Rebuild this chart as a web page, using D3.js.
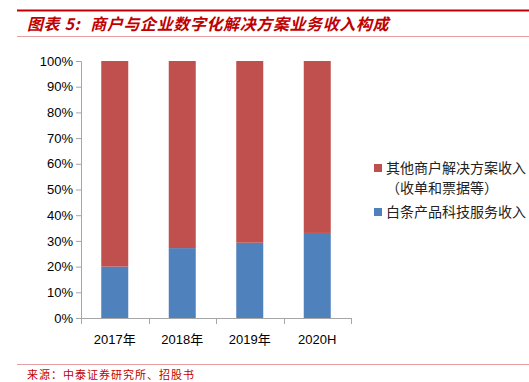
<!DOCTYPE html>
<html lang="zh-cn">
<head>
<meta charset="UTF-8">
<script src="https://cdn.jsdelivr.net/npm/d3@7/dist/d3.min.js"></script>
<title>商户与企业数字化解决方案业务收入构成</title>
<style>
  body { margin: 0; background: #fff; }
  svg { display: block; font-family: "Liberation Sans", Arial, "Noto Sans CJK SC", sans-serif; }
</style>
</head>
<body>
<script>
    // 数据
    var categories = ["2017年", "2018年", "2019年", "2020H"];
    var baitiao = [0.20, 0.272, 0.293, 0.331];       // 白条产品科技服务收入
    var others = [0.80, 0.728, 0.707, 0.669];        // 其他商户解决方案收入
    var yTicks = [0, 0.1, 0.2, 0.3, 0.4, 0.5, 0.6, 0.7, 0.8, 0.9, 1.0];

    var width = 529, height = 382;
    var svg = d3.select("body").append("svg").attr("width", width).attr("height", height);

    var red = "#C0504D", blue = "#4F81BD", titleRed = "#C00000";

    // 顶部标题
    svg.append("rect").attr("x", 17).attr("y", 9.5).attr("width", width - 17).attr("height", 2).attr("fill", titleRed);
    var title = svg.append("text").attr("x", 27).attr("y", 30)
        .attr("fill", titleRed).attr("font-size", "16px").attr("font-style", "italic").attr("font-weight", "bold")
        .attr("font-family", "'Noto Sans CJK SC', sans-serif").attr("letter-spacing", "0.6px")
        .style("white-space", "pre");
    title.append("tspan").text("图表 5:");
    title.append("tspan").attr("dx", 10).text("商户与企业数字化解决方案业务收入构成");
    svg.append("line").attr("x1", 17).attr("x2", width).attr("y1", 36.5).attr("y2", 36.5)
        .attr("stroke", "#E8A0A0").attr("stroke-width", 1);

    var padding = { top: 61, left: 81, right: 178, bottom: 64 };
    var x = d3.scaleBand().domain(categories).range([padding.left, 351]).paddingInner(0.6).paddingOuter(0.3);
    var y = d3.scaleLinear().domain([0, 1]).range([318, 61]);

    var stackData = categories.map(function(c, i) {
        return { cat: c, baitiao: baitiao[i], others: others[i] };
    });
    var series = d3.stack().keys(["baitiao", "others"])(stackData);
    var colors = { baitiao: blue, others: red };

    svg.append("g").selectAll("g").data(series).enter().append("g")
        .attr("fill", function(s) { return colors[s.key]; })
        .selectAll("rect").data(function(s) { return s; }).enter().append("rect")
        .attr("x", function(d) { return x(d.data.cat); })
        .attr("y", function(d) { return y(d[1]); })
        .attr("width", x.bandwidth())
        .attr("height", function(d) { return y(d[0]) - y(d[1]); });

    // y 轴
    var yAxis = svg.append("g").attr("transform", "translate(" + padding.left + ",0)")
        .call(d3.axisLeft(y).tickValues(yTicks).tickFormat(d3.format(".0%")).tickSize(5).tickPadding(3));
    // x 轴
    var xEdge = d3.scaleLinear().domain([0, categories.length]).range([padding.left, 351]);
    var xAxis = svg.append("g").attr("transform", "translate(0,318)");
    xAxis.append("line").attr("x1", padding.left).attr("x2", 351).attr("y1", 0.5).attr("y2", 0.5).attr("stroke", "#A6A6A6");
    xAxis.selectAll("line.tick").data(d3.range(categories.length + 1)).enter().append("line")
        .attr("x1", function(d) { return Math.round(xEdge(d)) + 0.5; })
        .attr("x2", function(d) { return Math.round(xEdge(d)) + 0.5; })
        .attr("y1", 0).attr("y2", 6).attr("stroke", "#A6A6A6");
    xAxis.selectAll("text").data(categories).enter().append("text")
        .attr("x", function(d) { return x(d) + x.bandwidth() / 2; })
        .attr("y", 26).attr("text-anchor", "middle").attr("font-size", "13px").attr("fill", "#000")
        .text(function(d) { return d; });

    yAxis.select(".domain").attr("stroke", "#A6A6A6");
    yAxis.selectAll(".tick line").attr("stroke", "#A6A6A6");
    yAxis.selectAll(".tick text").attr("font-size", "13px").attr("fill", "#000");

    // 图例
    var legend = [
        { color: red, lines: ["其他商户解决方案收入", "（收单和票据等）"], y: 168 },
        { color: blue, lines: ["白条产品科技服务收入"], y: 212 }
    ];
    var lg = svg.append("g").selectAll("g").data(legend).enter().append("g");
    lg.append("rect").attr("x", 374).attr("y", function(d) { return d.y - 4; })
        .attr("width", 8).attr("height", 8).attr("fill", function(d) { return d.color; });
    lg.each(function(d) {
        d3.select(this).selectAll("text").data(d.lines).enter().append("text")
            .attr("x", 386)
            .attr("y", function(t, i) { return d.y + 5 + i * 20; })
            .attr("font-size", "14px").attr("fill", "#222")
            .attr("font-family", "'Noto Sans CJK SC', sans-serif")
            .text(function(t) { return t; });
    });

    // 来源
    svg.append("line").attr("x1", 17).attr("x2", width).attr("y1", 364.5).attr("y2", 364.5)
        .attr("stroke", "#E8A0A0").attr("stroke-width", 1);
    svg.append("text").attr("x", 27).attr("y", 379).attr("fill", titleRed).attr("font-size", "11px")
        .attr("font-family", "'Noto Sans CJK SC', sans-serif").attr("letter-spacing", "1px")
        .text("来源：中泰证券研究所、招股书");
</script>
</body>
</html>
